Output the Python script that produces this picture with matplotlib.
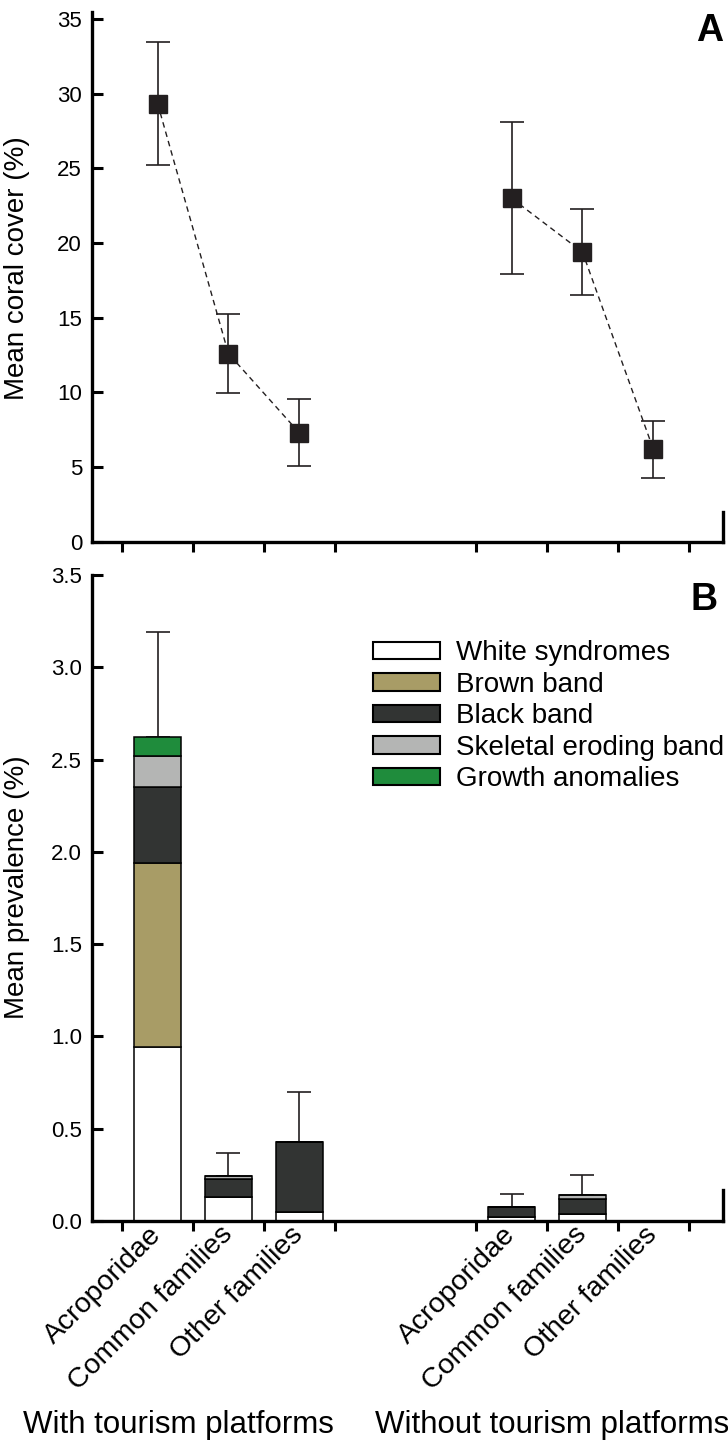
import numpy as np
import matplotlib
matplotlib.use("Agg")
from matplotlib import pyplot as plt
from matplotlib.ticker import FormatStrFormatter
from matplotlib.patches import Patch

plt.rcParams["font.family"] = ["Liberation Sans", "DejaVu Sans"]

# categories
families = ["Acroporidae", "Common families", "Other families"]
groups = ["With tourism platforms", "Without tourism platforms"]

# panel A: mean coral cover (%) and SE, with / without platforms
cover_with = [29.35, 12.6, 7.3]
cover_with_se = [4.1, 2.65, 2.25]
cover_without = [23.0, 19.4, 6.2]
cover_without_se = [5.1, 2.9, 1.9]

# panel B: mean disease prevalence (%) by disease, 6 bars (3 with, 3 without)
diseases = ["White syndromes", "Brown band", "Black band",
            "Skeletal eroding band", "Growth anomalies"]
white_syn = [0.94, 0.13, 0.05, 0.02, 0.04, 0.0]
brown_band = [1.00, 0.0, 0.0, 0.0, 0.0, 0.0]
black_band = [0.41, 0.095, 0.375, 0.058, 0.08, 0.0]
skeletal = [0.17, 0.02, 0.0, 0.0, 0.018, 0.0]
growth = [0.10, 0.0, 0.0, 0.0, 0.0, 0.0]
prev_se = [0.57, 0.125, 0.275, 0.07, 0.113, 0.0]

colors = ["#ffffff", "#a89c66", "#323433", "#b4b5b4", "#1f8c3c"]
dark = "#231f20"

pos_with = np.array([1, 2, 3])
pos_without = np.array([6, 7, 8])
positions = np.concatenate([pos_with, pos_without])
bounds = [0.5, 1.5, 2.5, 3.5, 5.5, 6.5, 7.5, 8.5]

fig = plt.figure(figsize=(7.28, 14.43), dpi=100)
axA = fig.add_axes([0.126, 0.6246, 0.8667, 0.3673])
axB = fig.add_axes([0.126, 0.1539, 0.8667, 0.4476])


def style_axes(ax, right_top):
    ax.spines["top"].set_visible(False)
    for s in ["left", "bottom", "right"]:
        ax.spines[s].set_linewidth(2.4)
        ax.spines[s].set_color("black")
    ax.spines["right"].set_bounds(0, right_top)
    ax.set_xlim(0.07, 8.98)
    ax.set_xticks(bounds)
    ax.set_xticklabels([])
    ax.tick_params(axis="x", which="major", direction="out", length=7.5,
                   width=2.2, color="black")
    ax.tick_params(axis="y", which="major", direction="in", length=8,
                   width=2.2, pad=7, labelsize=16, color="black")


# ---- panel A
for pos, m, se in [(pos_with, cover_with, cover_with_se),
                   (pos_without, cover_without, cover_without_se)]:
    axA.plot(pos, m, linestyle=(0, (4, 3)), color=dark, linewidth=1.0, zorder=2)
    axA.errorbar(pos, m, yerr=se, fmt="none", ecolor=dark, elinewidth=1.2,
                 capsize=8.3, capthick=1.2, zorder=3)
    axA.plot(pos, m, "s", color=dark, markersize=12.5, zorder=4)

axA.set_ylim(0, 35.5)
axA.set_yticks(np.arange(0, 36, 5))
style_axes(axA, 1.97)
axA.set_ylabel("Mean coral cover (%)", fontsize=20)
axA.yaxis.set_label_coords(-0.098, 0.517)

# ---- panel B
layers = [white_syn, brown_band, black_band, skeletal, growth]
bottom = np.zeros(len(positions))
for vals, c in zip(layers, colors):
    vals = np.array(vals)
    axB.bar(positions, vals, width=0.66, bottom=bottom, color=c,
            edgecolor="black", linewidth=1.1, zorder=2)
    bottom = bottom + vals
total = bottom
se = np.array(prev_se)
axB.errorbar(positions, total, yerr=[np.zeros_like(se), se], fmt="none",
             ecolor=dark, elinewidth=1.2, capsize=8.3, capthick=1.2, zorder=1)

axB.set_ylim(0, 3.5)
axB.set_yticks(np.arange(0, 3.6, 0.5))
axB.yaxis.set_major_formatter(FormatStrFormatter("%.1f"))
style_axes(axB, 0.17)
axB.set_xticks(positions, minor=True)
axB.set_xticklabels(families * 2, minor=True, rotation=45, ha="right",
                    va="center", rotation_mode="anchor", fontsize=20.5)
axB.tick_params(axis="x", which="minor", length=0, pad=7)
axB.set_ylabel("Mean prevalence (%)", fontsize=20)
axB.yaxis.set_label_coords(-0.098, 0.517)

handles = [Patch(facecolor=c, edgecolor="black", linewidth=1.5) for c in colors]
axB.legend(handles, diseases, loc="upper left", bbox_to_anchor=(0.4458, 0.899),
           frameon=False, fontsize=20, handlelength=2.4, handleheight=0.58,
           handletextpad=0.6, labelspacing=0.2, borderpad=0, borderaxespad=0)

# panel letters and group labels
fig.text(710 / 728, 1 - 31 / 1443, "A", fontsize=27, fontweight="bold",
         ha="center", va="center")
fig.text(704 / 728, 1 - 600 / 1443, "B", fontsize=27, fontweight="bold",
         ha="center", va="center")
fig.text(178 / 728, 1 - 1425 / 1443, groups[0], fontsize=22.5,
         ha="center", va="center")
fig.text(375 / 728, 1 - 1425 / 1443, groups[1], fontsize=22.5,
         ha="left", va="center")

fig.savefig("out.png", dpi=100)
